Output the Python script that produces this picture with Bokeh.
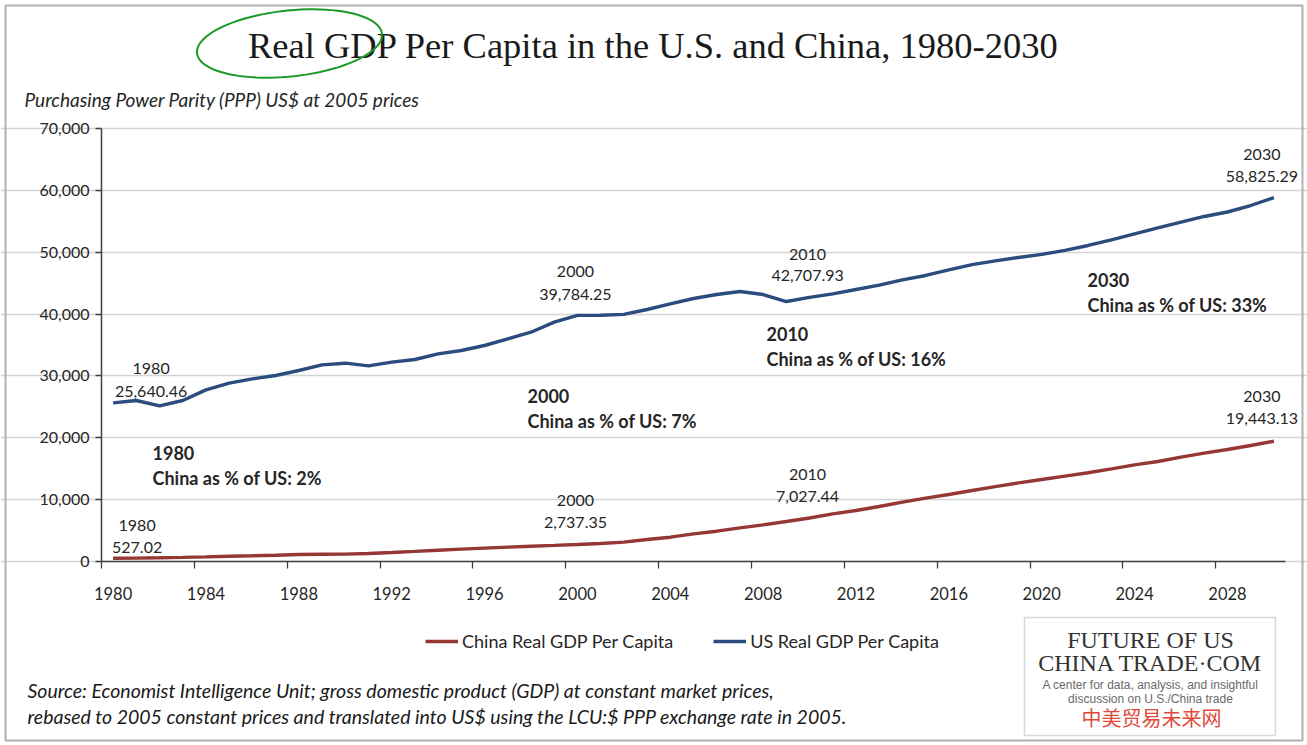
import numpy as np
from bokeh.plotting import figure
from bokeh.models import (Range1d, FixedTicker, NumeralTickFormatter, Label, Grid,
                          Legend, LegendItem, PolyAnnotation, LinearAxis)
from bokeh.embed import file_html
from bokeh.resources import INLINE

# ---------------- data ----------------
years = list(range(1980, 2031))
us_gdp = [25640.46, 26030, 25170, 26030, 27750, 28830, 29530, 30070, 30880, 31790,
          32060, 31630, 32230, 32660, 33570, 34110, 34920, 36000, 37070, 38690,
          39784.25, 39800, 39950, 40740, 41650, 42520, 43160, 43650, 43160, 42030,
          42707.93, 43270, 43970, 44670, 45530, 46240, 47150, 48000, 48600, 49150,
          49650, 50300, 51090, 52000, 52970, 53940, 54860, 55780, 56500, 57550,
          58825.29]
china_gdp = [527.02, 550, 600, 660, 750, 850, 920, 1020, 1130, 1170,
             1200, 1290, 1460, 1640, 1830, 2000, 2170, 2330, 2470, 2600,
             2737.35, 2910, 3130, 3560, 3930, 4470, 4900, 5440, 5930, 6470,
             7027.44, 7710, 8250, 8890, 9590, 10240, 10830, 11480, 12100, 12700,
             13250, 13800, 14350, 14980, 15630, 16170, 16870, 17510, 18110, 18750,
             19443.13]
x_label_years = years[:-1:4]          # 1980, 1984, ... 2028
y_ticks = [0, 10000, 20000, 30000, 40000, 50000, 60000, 70000]
highlight_years = [1980, 2000, 2010, 2030]

title_text = "Real GDP Per Capita in the U.S. and China, 1980-2030"
y_title = "Purchasing Power Parity (PPP) US$ at 2005 prices"
source_lines = ["Source:  Economist Intelligence Unit; gross domestic product (GDP) at constant market prices,",
                "rebased to 2005 constant prices and translated into US$ using the LCU:$ PPP exchange rate in 2005."]

US_COLOR = "#2b4c7e"
CN_COLOR = "#953735"
TXT = "#262626"

# ---------------- layout geometry (page pixels) ----------------
W, H = 1307, 745
PL, PR, PT, PB = 101, 1285, 128, 561          # plot area
X0, X1 = years[0] - 0.5, years[-1] + 0.5
Y0, Y1 = y_ticks[0], y_ticks[-1]
PPX = (PR - PL) / (X1 - X0)
YPP = (Y1 - Y0) / (PB - PT)


def dx(px):
    return X0 + (px - PL) / PPX


def dy(py):
    return Y0 + (PB - py) * YPP


p = figure(width=W, height=H, x_range=Range1d(dx(0), dx(W)), y_range=Range1d(dy(H), dy(0)),
           output_backend="svg", toolbar_location=None,
           x_axis_location=None, y_axis_location=None,
           min_border_left=0, min_border_right=0, min_border_top=0, min_border_bottom=0)
p.background_fill_color = "white"
p.border_fill_color = "white"
p.outline_line_color = None
p.xgrid.visible = False
p.ygrid.visible = False

ygrid = Grid(dimension=1, ticker=FixedTicker(ticks=y_ticks), bounds=(X0, X1),
             grid_line_color="#d4d4d4", grid_line_width=1.3)
p.add_layout(ygrid)

# axes
xa = LinearAxis(fixed_location=Y0, bounds=(X0, X1))
xa.ticker = FixedTicker(ticks=x_label_years, minor_ticks=[y - 0.5 for y in x_label_years])
xa.major_tick_line_color = None
xa.major_tick_out = 0
xa.major_tick_in = 0
xa.minor_tick_line_color = "#404040"
xa.minor_tick_out = 7
xa.minor_tick_in = 0
xa.minor_tick_line_width = 1.3
xa.axis_line_color = "#404040"
xa.axis_line_width = 1.5
xa.major_label_standoff = 18
xa.major_label_text_font = "Lato"
xa.major_label_text_font_size = "16.5px"
xa.major_label_text_color = TXT
p.add_layout(xa, "below")

ya = LinearAxis(fixed_location=X0, bounds=(Y0, Y1))
ya.ticker = FixedTicker(ticks=y_ticks)
ya.formatter = NumeralTickFormatter(format="0,0")
ya.minor_tick_line_color = None
ya.major_tick_out = 6
ya.major_tick_in = 0
ya.major_tick_line_color = "#404040"
ya.major_tick_line_width = 1.3
ya.axis_line_color = "#404040"
ya.axis_line_width = 1.5
ya.major_label_standoff = 6
ya.major_label_text_font = "Lato"
ya.major_label_text_font_size = "16px"
ya.major_label_text_color = TXT
p.add_layout(ya, "left")

# lines
cn_r = p.line(years, china_gdp, line_color=CN_COLOR, line_width=3.4)
us_r = p.line(years, us_gdp, line_color=US_COLOR, line_width=3.4)

legend = Legend(items=[LegendItem(label="China Real GDP Per Capita", renderers=[cn_r]),
                       LegendItem(label="US Real GDP Per Capita", renderers=[us_r])],
                orientation="horizontal", location=(425, 93))
legend.border_line_color = None
legend.background_fill_alpha = 0
legend.label_text_font = "Lato"
legend.label_text_font_size = "18px"
legend.label_text_color = TXT
legend.glyph_width = 33
legend.label_standoff = 4
legend.spacing = 40
legend.margin = 0
p.add_layout(legend)

# value annotations
def add_value_labels(series, x_off, offs_top, offs_bot):
    for yr in highlight_years:
        i = years.index(yr)
        v = series[i]
        xo = x_off.get(yr, 0)
        p.add_layout(Label(x=yr, y=v, x_offset=xo, y_offset=offs_top[yr], text=str(yr),
                           text_align="center", text_baseline="middle",
                           text_font="Lato", text_font_size="16px", text_color=TXT))
        p.add_layout(Label(x=yr, y=v, x_offset=xo, y_offset=offs_bot[yr], text=f"{v:,.2f}",
                           text_align="center", text_baseline="middle",
                           text_font="Lato", text_font_size="16px", text_color=TXT))

add_value_labels(us_gdp, {1980: 38, 2000: -2, 2010: -2, 2030: -12},
                 {1980: 34, 2000: 44, 2010: 43, 2030: 43},
                 {1980: 11, 2000: 21, 2010: 22, 2030: 21})
add_value_labels(china_gdp, {1980: 24, 2000: -2, 2010: -2, 2030: -12},
                 {1980: 33, 2000: 44, 2010: 44, 2030: 45},
                 {1980: 11, 2000: 22, 2010: 22, 2030: 23})

# bold share annotations
share_pos = {1980: (152, 452), 2000: (527, 395), 2010: (766, 333), 2030: (1087, 279)}
for yr in highlight_years:
    i = years.index(yr)
    pct = round(china_gdp[i] / us_gdp[i] * 100)
    px, py = share_pos[yr]
    p.add_layout(Label(x=dx(px), y=dy(py), text=str(yr), text_align="left",
                       text_baseline="middle", text_font="Lato", text_font_style="bold",
                       text_font_size="18px", text_color=TXT))
    p.add_layout(Label(x=dx(px), y=dy(py + 25), text=f"China as % of US: {pct}%",
                       text_align="left", text_baseline="middle", text_font="Lato",
                       text_font_style="bold", text_font_size="18px", text_color=TXT))

# title and axis title
p.add_layout(Label(x=dx(653), y=dy(45), text=title_text, text_align="center",
                   text_baseline="middle", text_font="Liberation Serif",
                   text_font_size="36.5px", text_color="#1a1a1a"))
p.add_layout(Label(x=dx(24), y=dy(99), text=y_title, text_align="left",
                   text_baseline="middle", text_font="Lato", text_font_style="italic",
                   text_font_size="19px", text_color=TXT))

# source
for k, line in enumerate(source_lines):
    p.add_layout(Label(x=dx(27), y=dy(690 + 26 * k), text=line, text_align="left",
                       text_baseline="middle", text_font="Lato", text_font_style="italic",
                       text_font_size="19.5px", text_color="#1a1a1a"))

# outer border
bx = [dx(5), dx(1302), dx(1302), dx(5)]
by = [dy(5), dy(5), dy(740), dy(740)]
p.add_layout(PolyAnnotation(xs=bx, ys=by, fill_alpha=0, line_color="#b0b0b0",
                            line_alpha=1, line_width=2))

# logo box
lx = [dx(1024), dx(1275), dx(1275), dx(1024)]
ly = [dy(617), dy(617), dy(735), dy(735)]
p.add_layout(PolyAnnotation(xs=lx, ys=ly, fill_color="white", fill_alpha=1,
                            line_color="#d9d9d9", line_alpha=1, line_width=1.5))
p.add_layout(Label(x=dx(1150), y=dy(639), text="FUTURE OF US", text_align="center",
                   text_baseline="middle", text_font="Liberation Serif",
                   text_font_size="24px", text_color="#333333"))
p.add_layout(Label(x=dx(1150), y=dy(662), text="CHINA TRADE\u00b7COM", text_align="center",
                   text_baseline="middle", text_font="Liberation Serif",
                   text_font_size="24px", text_color="#333333"))
p.add_layout(Label(x=dx(1150), y=dy(684), text="A center for data, analysis, and insightful",
                   text_align="center", text_baseline="middle", text_font="Liberation Sans",
                   text_font_size="12px", text_color="#6a6a6a"))
p.add_layout(Label(x=dx(1150), y=dy(698), text="discussion on U.S./China trade",
                   text_align="center", text_baseline="middle", text_font="Liberation Sans",
                   text_font_size="12px", text_color="#6a6a6a"))
p.add_layout(Label(x=dx(1151), y=dy(717), text="中美贸易未来网", text_align="center",
                   text_baseline="middle", text_font="Noto Sans CJK SC",
                   text_font_size="20px", text_color="#e0483c"))

# hand-drawn green loop around "Real GDP"
t = np.linspace(0, 2 * np.pi, 90)
th = np.deg2rad(-6)
cx, cy, rx, ry = 289, 43, 93, 33
ex = cx + rx * np.cos(t) * np.cos(th) - ry * np.sin(t) * np.sin(th)
ey = cy + rx * np.cos(t) * np.sin(th) + ry * np.sin(t) * np.cos(th)
p.add_layout(PolyAnnotation(xs=[dx(v) for v in ex], ys=[dy(v) for v in ey],
                            fill_alpha=0, line_color="#1c9a28", line_alpha=1, line_width=2))

open("out.html", "w").write(file_html(p, INLINE))
